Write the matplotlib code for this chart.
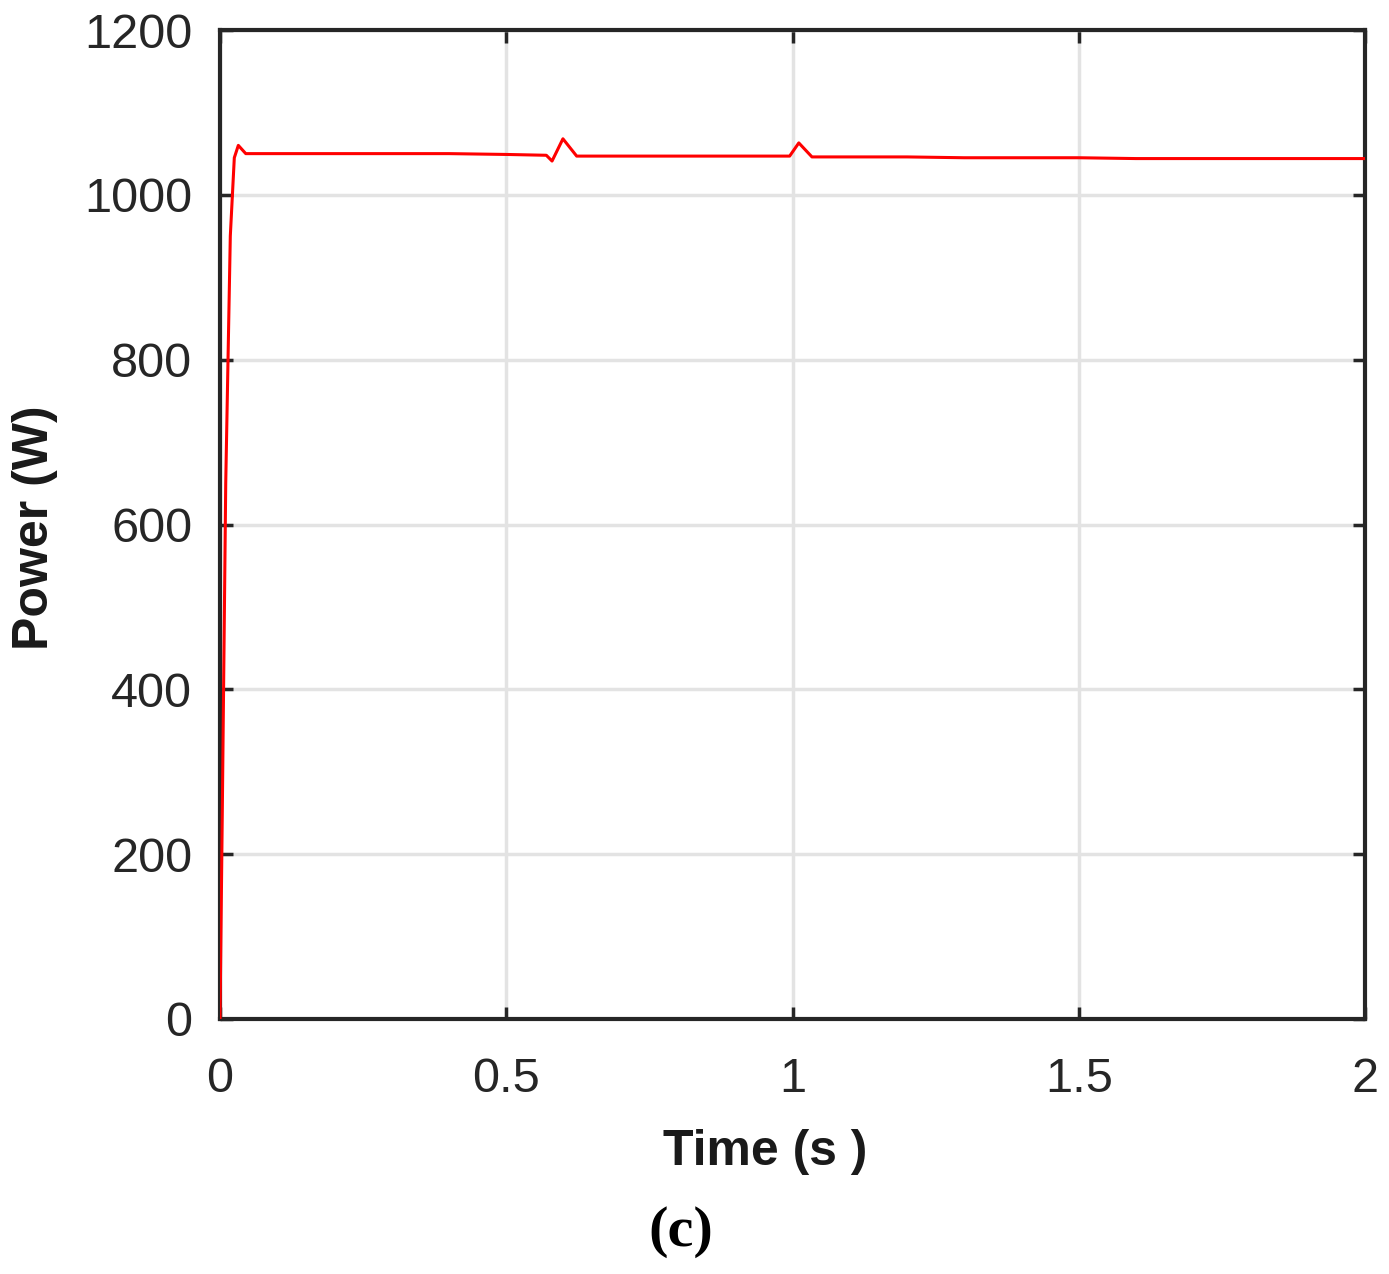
import matplotlib
matplotlib.use("Agg")
import matplotlib.pyplot as plt
import numpy as np

# Data
time_s = [0.0, 0.004, 0.010, 0.018, 0.025, 0.032, 0.045, 0.10, 0.20, 0.30, 0.40, 0.50,
          0.57, 0.580, 0.599, 0.623, 0.70, 0.80, 0.90, 0.995, 1.011, 1.034,
          1.10, 1.20, 1.30, 1.40, 1.50, 1.60, 1.70, 1.80, 1.90, 2.0]
power_w = [0, 250, 650, 950, 1045, 1060, 1050, 1050, 1050, 1050, 1050, 1049,
           1048, 1041, 1068, 1047, 1047, 1047, 1047, 1047, 1063, 1046,
           1046, 1046, 1045, 1045, 1045, 1044, 1044, 1044, 1044, 1044]
x_ticks = [0, 0.5, 1, 1.5, 2]
x_tick_labels = ["0", "0.5", "1", "1.5", "2"]
y_ticks = [0, 200, 400, 600, 800, 1000, 1200]

plt.rcParams['font.family'] = ['Liberation Sans', 'DejaVu Sans']

fig = plt.figure(figsize=(13.89, 12.74), dpi=100)
ax = fig.add_axes([220/1389, 1 - 1019/1274, (1365-220)/1389, (1019-30)/1274])

ax.plot(time_s, power_w, color='#ff0000', linewidth=2.2, zorder=3)

ax.set_xlim(0, 2)
ax.set_ylim(0, 1200)
ax.set_xticks(x_ticks)
ax.set_xticklabels(x_tick_labels)
ax.set_yticks(y_ticks)

ax.grid(True, color='#e3e3e3', linewidth=2.5)
ax.set_axisbelow(True)

for s in ax.spines.values():
    s.set_color('#262626')
    s.set_linewidth(3)

ax.tick_params(axis='both', direction='in', length=9, width=2.5, color='#262626',
               labelsize=35, labelcolor='#262626', top=True, right=True)
ax.tick_params(axis='x', pad=27)
ax.tick_params(axis='y', pad=20)

ax.set_xlabel("Time (s )", fontsize=36, fontweight='bold', color='#1a1a1a')
ax.xaxis.set_label_coords((765-220)/1145, -0.111, transform=ax.transAxes)
ax.xaxis.label.set_va('top')
ax.set_ylabel("Power (W)", fontsize=36, fontweight='bold', color='#1a1a1a')
ax.yaxis.set_label_coords((58-220)/1145, (1019-528)/989, transform=ax.transAxes)
ax.yaxis.label.set_va('bottom')

fig.text(681/1389, 1 - 1232/1274, "(c)", fontsize=42, fontweight='bold',
         family=['Liberation Serif', 'DejaVu Serif'], ha='center', va='center', color='black')

fig.savefig("out.png", dpi=100, facecolor='white')
